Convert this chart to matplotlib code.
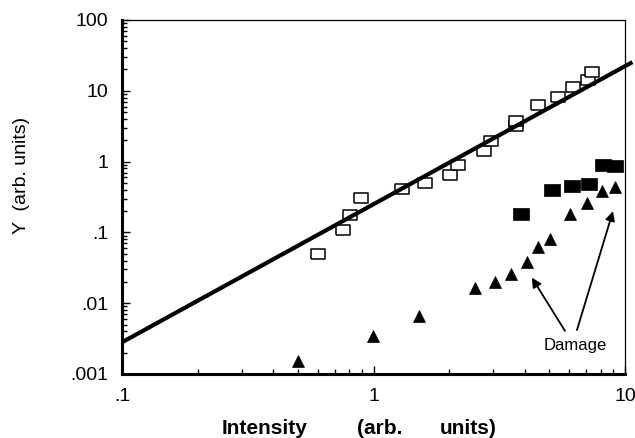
import numpy as np
import matplotlib
matplotlib.use("Agg")
import matplotlib.pyplot as plt
from matplotlib.ticker import NullFormatter

plt.rcParams['font.family'] = ['Liberation Sans', 'DejaVu Sans']

# open squares
open_x = [0.60, 0.754, 0.806, 0.894, 1.30, 1.60, 2.01, 2.17, 2.76, 2.92, 3.70, 3.68, 4.50, 5.42, 6.23, 7.15, 7.37]
open_y = [0.050, 0.109, 0.175, 0.304, 0.41, 0.50, 0.65, 0.887, 1.42, 1.95, 3.14, 3.70, 6.21, 8.15, 11.5, 14.0, 18.7]
# filled squares (damage)
filled_x = [3.86, 5.11, 6.17, 7.19, 8.20, 9.13]
filled_y = [0.179, 0.403, 0.449, 0.49, 0.898, 0.878]
# triangles
tri_x = [0.503, 0.998, 1.51, 2.53, 3.04, 3.52, 4.06, 4.52, 5.03, 6.04, 7.08, 8.08, 9.13]
tri_y = [0.00154, 0.0034, 0.00662, 0.0162, 0.0201, 0.0262, 0.0384, 0.062, 0.080, 0.179, 0.262, 0.39, 0.44]

# power law fit line  Y = a * I^b
fit_a = 0.25
fit_b = 1.95
fit_range = [0.1, 10.7]

yticks = [0.001, 0.01, 0.1, 1, 10, 100]
ytick_labels = [".001", ".01", ".1", "1", "10", "100"]
xticks = [0.1, 1, 10]
xtick_labels = [".1", "1", "10"]

fig = plt.figure(figsize=(6.35, 4.38), dpi=100)
ax = fig.add_axes([122/635, 1-374/438, 503/635, 354/438])

rect_open = [(-1, -0.72), (1, -0.72), (1, 0.72), (-1, 0.72), (-1, -0.72)]
rect_fill = [(-1, -0.85), (1, -0.85), (1, 0.85), (-1, 0.85), (-1, -0.85)]

ax.plot(open_x, open_y, linestyle='none', marker=rect_open, ms=10.5,
        mfc='white', mec='black', mew=1.1, zorder=2)
ax.plot(filled_x, filled_y, linestyle='none', marker=rect_fill, ms=11,
        mfc='black', mec='black', mew=0.5, zorder=2)
ax.plot(tri_x, tri_y, linestyle='none', marker='^', ms=8.5,
        mfc='black', mec='black', mew=0.5, zorder=2)

xf = np.array(fit_range)
ax.plot(xf, fit_a * xf**fit_b, color='black', lw=3, zorder=3,
        clip_on=False, solid_capstyle='butt')

ax.set_xscale('log')
ax.set_yscale('log')
ax.set_xlim(0.1, 10)
ax.set_ylim(0.001, 100)
ax.set_xticks(xticks, xtick_labels)
ax.set_yticks(yticks, ytick_labels)
ax.xaxis.set_minor_formatter(NullFormatter())
ax.yaxis.set_minor_formatter(NullFormatter())
ax.tick_params(which='both', direction='in', top=False, right=False,
               width=1, labelsize=14, pad=10)
ax.tick_params(which='major', length=6)
ax.tick_params(which='minor', length=3.5)

ax.spines['left'].set_linewidth(2.2)
ax.spines['bottom'].set_linewidth(2.2)
ax.spines['top'].set_linewidth(0.9)
ax.spines['right'].set_linewidth(0.9)

arrow = dict(arrowstyle='-|>', lw=1.3, color='black', mutation_scale=14,
             shrinkA=0, shrinkB=0)
ax.annotate('', xy=(4.26, 0.023), xytext=(5.77, 0.00407), arrowprops=arrow)
ax.annotate('', xy=(8.96, 0.1995), xytext=(6.44, 0.00417), arrowprops=arrow)
ax.text(6.33, 0.00256, 'Damage', ha='center', va='center', fontsize=12)

fig.text(22/635, 1-175/438, 'Y  (arb. units)', rotation=90,
         ha='center', va='center', fontsize=14)
base = 1 - 434/438
fig.text(222/635, base, 'Intensity', fontsize=15, fontweight='bold', va='baseline')
fig.text(357/635, base, '(arb.', fontsize=15, fontweight='bold', va='baseline')
fig.text(440/635, base, 'units)', fontsize=15, fontweight='bold', va='baseline')

fig.savefig('out.png', dpi=100)
